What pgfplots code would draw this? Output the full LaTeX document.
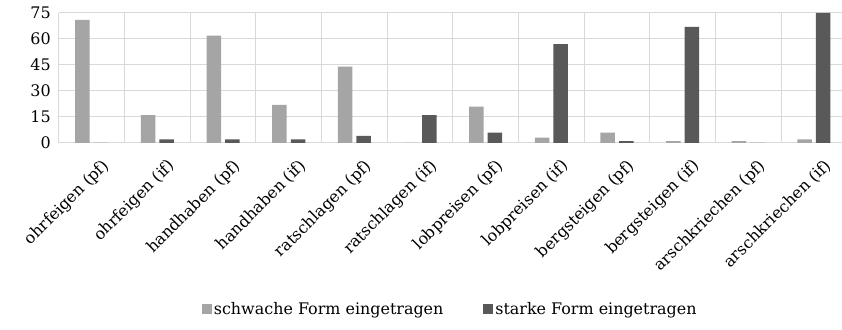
\documentclass[border=0pt]{standalone}
\usepackage{pgfplots}
\pgfplotsset{compat=1.18}
\usepackage{fontspec}
\setmainfont{DejaVu Serif}
\definecolor{light}{HTML}{A5A5A5}
\definecolor{dark}{HTML}{595959}
\definecolor{gridc}{HTML}{D9D9D9}
\begin{document}
\fontsize{16}{19}\selectfont
\begin{tikzpicture}
\begin{axis}[
  scale only axis,
  width=783bp, height=130bp,
  ybar, bar width=14.5bp,
  xmin=-0.5, xmax=11.42,
  ymin=0, ymax=75,
  ytick={0,15,...,75},
  xtick={0,...,11},
  xticklabels={ohrfeigen (pf),ohrfeigen (if),handhaben (pf),handhaben (if),ratschlagen (pf),ratschlagen (if),lobpreisen (pf),lobpreisen (if),bergsteigen (pf),bergsteigen (if),arschkriechen (pf),arschkriechen (if)},
  x tick label style={rotate=45, anchor=north east, inner sep=1pt, xshift=-3bp, yshift=-16bp, font=\fontsize{16}{19}\selectfont},
  y tick label style={font=\fontsize{16}{19}\selectfont, xshift=-8bp, inner sep=0pt},
  /pgf/number format/assume math mode=true,
  minor xtick={-0.5,0.5,...,11.5},
  xminorgrids, ymajorgrids,
  minor x grid style={gridc, line width=1pt},
  major y grid style={gridc, line width=1pt},
  major tick length=0pt, minor tick length=0pt,
  axis x line*=bottom, axis y line*=left,
  x axis line style={gridc, line width=1pt, -},
  y axis line style={draw=none},
  enlarge y limits=false,
  legend style={at={(0.5,-1.28)}, anchor=center, draw=none, inner sep=0pt, legend columns=2, font=\fontsize{16}{19}\selectfont, /tikz/every even column/.append style={column sep=38bp}},
  legend image code/.code={\fill[#1] (0bp,-5bp) rectangle (10bp,5bp);},
  clip=false,
]
\addplot[fill=light, draw=none, bar shift=-9.3bp] coordinates {(0,71) (1,16) (2,62) (3,22) (4,44) (5,0) (6,21) (7,3) (8,6) (9,1) (10,1) (11,2)};
\addplot[fill=dark, draw=none, bar shift=9.3bp] coordinates {(0,0) (1,2) (2,2) (3,2) (4,4) (5,16) (6,6) (7,57) (8,1) (9,67) (10,0) (11,75)};
\legend{schwache Form eingetragen, starke Form eingetragen}
\path (rel axis cs:0,0) ++(-59bp,0pt);
\path (rel axis cs:0,1) ++(0pt,13bp);
\path (rel axis cs:0,0) ++(0pt,-187bp);
\end{axis}
\end{tikzpicture}
\end{document}
